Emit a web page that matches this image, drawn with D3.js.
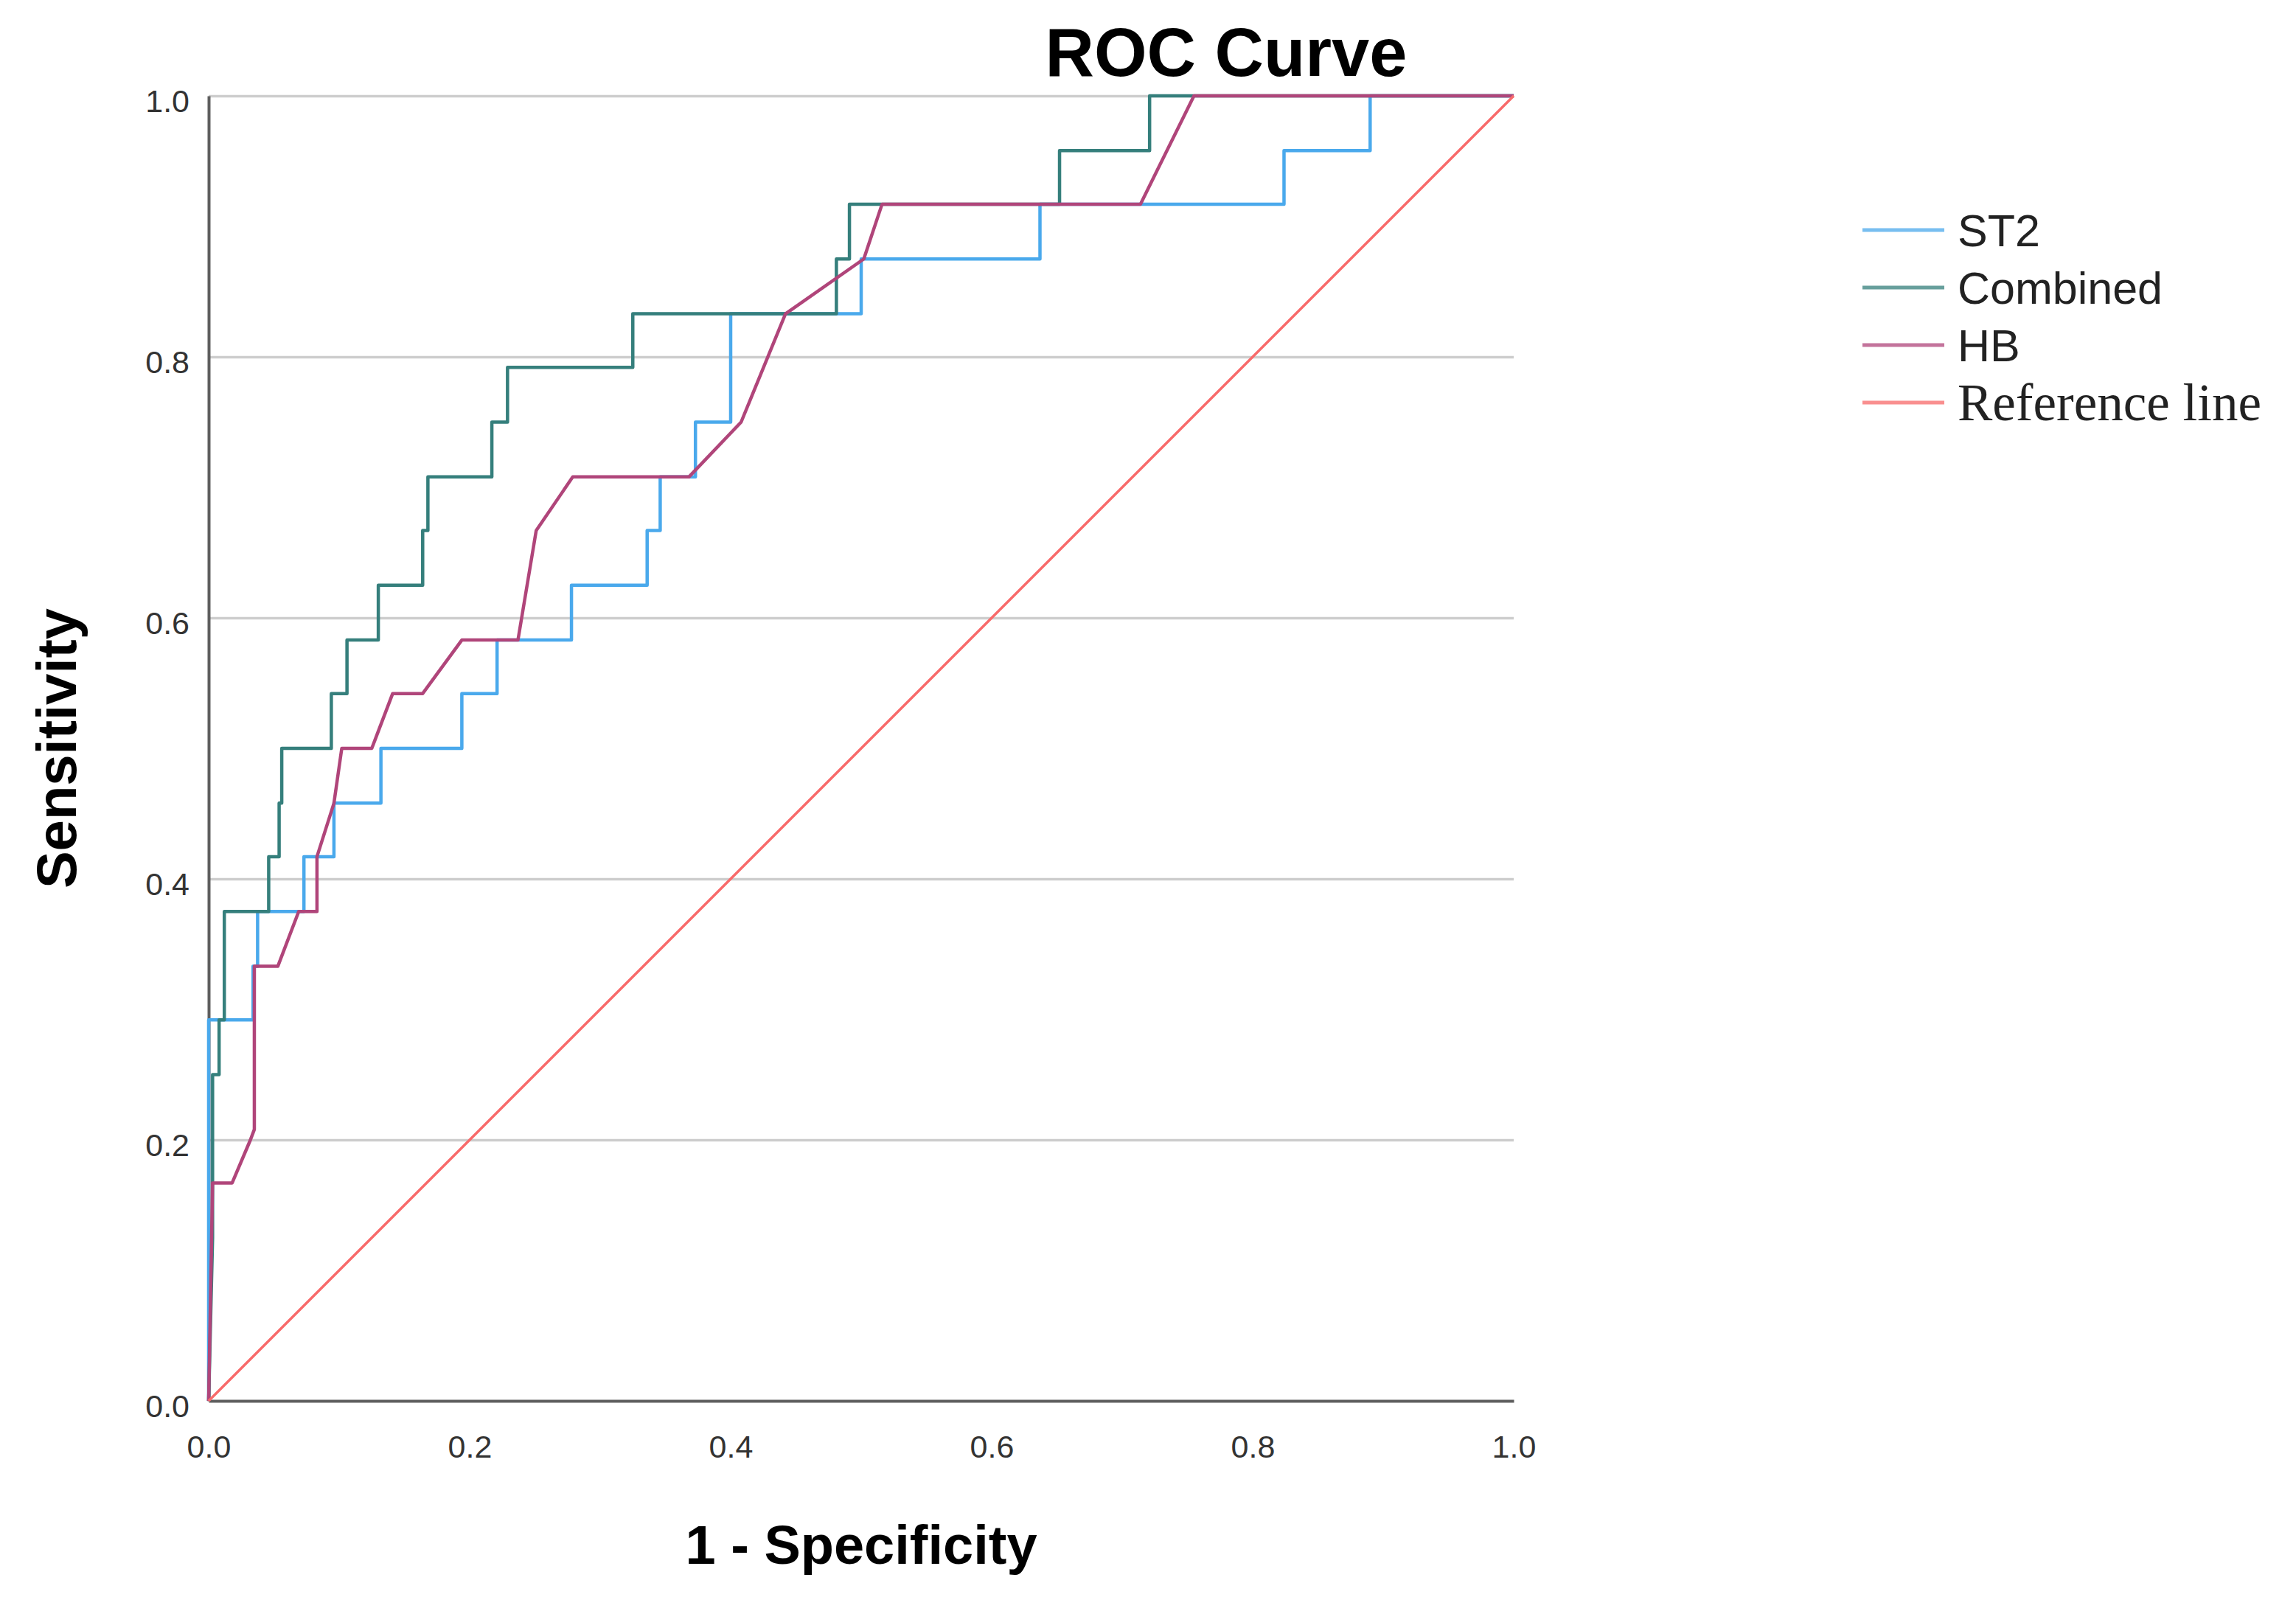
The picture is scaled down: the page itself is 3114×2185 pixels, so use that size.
<html>
<head>
<meta charset="utf-8">
<style>
    body{ margin: 0; background: #fff; }
    .curve{ fill: none; stroke-linejoin: round; }
    .tick text{ font-family: "Liberation Sans", Arial, sans-serif; font-size: 43px; fill: #333; }
</style>
</head>
<script src="https://d3js.org/d3.v7.min.js"></script>
<body>
    <svg id="rocChart"></svg>
</body>
<script>
    // ROC points [1 - specificity, sensitivity]
    const st2 = [[0,0],[0,0.125],[0,0.292],[0.034,0.292],[0.034,0.333],[0.0375,0.333],[0.0375,0.375],
        [0.073,0.375],[0.073,0.417],[0.096,0.417],[0.096,0.458],[0.132,0.458],[0.132,0.5],[0.194,0.5],
        [0.194,0.542],[0.221,0.542],[0.221,0.583],[0.278,0.583],[0.278,0.625],[0.336,0.625],[0.336,0.667],
        [0.346,0.667],[0.346,0.708],[0.373,0.708],[0.373,0.75],[0.4,0.75],[0.4,0.833],[0.5,0.833],
        [0.5,0.875],[0.637,0.875],[0.637,0.917],[0.824,0.917],[0.824,0.958],[0.89,0.958],[0.89,1],[1,1]];
    const combined = [[0,0],[0.003,0.125],[0.003,0.25],[0.008,0.25],[0.008,0.292],[0.012,0.292],[0.012,0.375],
        [0.046,0.375],[0.046,0.417],[0.054,0.417],[0.054,0.458],[0.056,0.458],[0.056,0.5],[0.094,0.5],
        [0.094,0.542],[0.106,0.542],[0.106,0.583],[0.13,0.583],[0.13,0.625],[0.164,0.625],[0.164,0.667],
        [0.168,0.667],[0.168,0.708],[0.217,0.708],[0.217,0.75],[0.229,0.75],[0.229,0.792],[0.325,0.792],
        [0.325,0.833],[0.481,0.833],[0.481,0.875],[0.491,0.875],[0.491,0.917],[0.652,0.917],[0.652,0.958],
        [0.721,0.958],[0.721,1],[1,1]];
    const hb = [[0,0],[0.003,0.167],[0.018,0.167],[0.032,0.2],[0.035,0.208],[0.035,0.333],[0.053,0.333],
        [0.069,0.375],[0.083,0.375],[0.083,0.417],[0.096,0.458],[0.102,0.5],[0.125,0.5],[0.141,0.542],
        [0.164,0.542],[0.194,0.583],[0.237,0.583],[0.251,0.667],[0.279,0.708],[0.368,0.708],[0.408,0.75],
        [0.442,0.833],[0.502,0.875],[0.516,0.917],[0.714,0.917],[0.755,1],[1,1]];
    const referenceLine = [[0,0],[1,1]];

    const seriesNames = ['ST2', 'Combined', 'HB', 'Reference line'];
    const seriesColors = ['#4aa9ec', '#357f7c', '#b0457a', '#f86a6a'];
    const xTicks = [0, 0.2, 0.4, 0.6, 0.8, 1.0];
    const yTicks = [0, 0.2, 0.4, 0.6, 0.8, 1.0];

    let width = 3114, height = 2185;
    let margin = { top: 130, left: 283, right: 1061, bottom: 285 };
    let bodyWidth = width - margin.left - margin.right;
    let bodyHeight = height - margin.top - margin.bottom;

    let svg = d3.select('#rocChart').attr('width', width).attr('height', height);

    let xScale = d3.scaleLinear().domain([0, 1]).range([0, bodyWidth]);
    let yScale = d3.scaleLinear().domain([0, 1]).range([bodyHeight, 0]);

    let body = svg.append('g').attr('transform', `translate(${margin.left},${margin.top})`);

    // gridlines
    body.append('g')
        .call(d3.axisLeft(yScale).tickValues(yTicks.filter(d => d > 0)).tickSize(-bodyWidth).tickFormat(''))
        .call(g => g.select('.domain').remove())
        .call(g => g.selectAll('line').attr('stroke', '#cdcdcd').attr('stroke-width', 3.5));

    // axes
    let axisX = d3.axisBottom(xScale).tickValues(xTicks).tickSize(0).tickPadding(46).tickFormat(d3.format('.1f'));
    body.append('g')
        .attr('transform', `translate(0,${bodyHeight})`)
        .call(axisX)
        .call(g => g.select('.domain').attr('stroke', '#5e5e5e').attr('stroke-width', 4));

    let axisY = d3.axisLeft(yScale).tickValues(yTicks).tickSize(0).tickPadding(26).tickFormat(d3.format('.1f'));
    body.append('g')
        .call(axisY)
        .call(g => g.select('.domain').attr('stroke', '#5e5e5e').attr('stroke-width', 4))
        .call(g => g.selectAll('text').attr('dy', '0.5em'));

    // curves
    let lineG = d3.line().x(d => xScale(d[0])).y(d => yScale(d[1]));
    let allSeries = [st2, combined, hb, referenceLine];
    allSeries.forEach((s, i) => {
        body.append('path')
            .datum(s)
            .attr('class', 'curve')
            .attr('d', lineG)
            .attr('stroke', seriesColors[i])
            .attr('stroke-width', i === 3 ? 3.5 : 4.5);
    });

    // titles
    svg.append('text')
        .attr('x', 1663).attr('y', 103)
        .attr('text-anchor', 'middle')
        .style('font-family', '"Liberation Sans", Arial, sans-serif')
        .style('font-weight', 'bold').style('font-size', '92px')
        .text('ROC Curve');

    svg.append('text')
        .attr('x', 1168).attr('y', 2121)
        .attr('text-anchor', 'middle')
        .style('font-family', '"Liberation Sans", Arial, sans-serif')
        .style('font-weight', 'bold').style('font-size', '74px')
        .text('1 - Specificity');

    svg.append('text')
        .attr('transform', `translate(103,${margin.top + yScale(0.5)}) rotate(-90)`)
        .attr('text-anchor', 'middle')
        .style('font-family', '"Liberation Sans", Arial, sans-serif')
        .style('font-weight', 'bold').style('font-size', '76px')
        .text('Sensitivity');

    // legend
    let legend = svg.append('g').attr('transform', 'translate(2526,312)');
    seriesNames.forEach((name, i) => {
        let row = legend.append('g').attr('transform', `translate(0,${i * 78})`);
        row.append('line')
            .attr('x1', 0).attr('x2', 111).attr('y1', 0).attr('y2', 0)
            .attr('stroke', seriesColors[i]).attr('stroke-width', 5).attr('opacity', 0.75);
        row.append('text')
            .attr('x', 129).attr('y', i === 3 ? 24 : 22)
            .style('font-family', i === 3 ? '"Liberation Serif", "Times New Roman", serif' : '"Liberation Sans", Arial, sans-serif')
            .style('font-size', i === 3 ? '71px' : '61px')
            .style('fill', '#222')
            .text(name);
    });
</script>
</html>
